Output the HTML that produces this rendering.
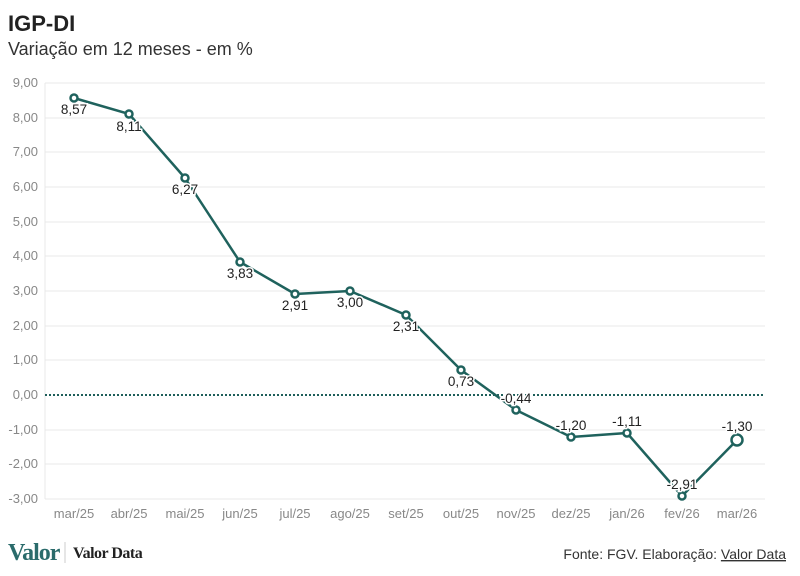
<!DOCTYPE html>
<html><head><meta charset="utf-8"><style>
body{margin:0;background:#fff;width:800px;height:571px;overflow:hidden;font-family:"Liberation Sans",sans-serif}
</style></head><body>
<svg width="800" height="571" xmlns="http://www.w3.org/2000/svg" font-family="Liberation Sans, sans-serif">
<text x="8" y="31" font-size="22" font-weight="bold" fill="#222">IGP-DI</text>
<text x="8" y="55" font-size="18" fill="#333">Variação em 12 meses - em %</text>
<g stroke="#e8e8e8" stroke-width="1">
<line x1="45" x2="765" y1="83" y2="83"/><line x1="45" x2="765" y1="118" y2="118"/><line x1="45" x2="765" y1="152" y2="152"/><line x1="45" x2="765" y1="187" y2="187"/><line x1="45" x2="765" y1="222" y2="222"/><line x1="45" x2="765" y1="256" y2="256"/><line x1="45" x2="765" y1="291" y2="291"/><line x1="45" x2="765" y1="326" y2="326"/><line x1="45" x2="765" y1="360" y2="360"/><line x1="45" x2="765" y1="430" y2="430"/><line x1="45" x2="765" y1="464" y2="464"/><line x1="45" x2="765" y1="499" y2="499"/>
<line x1="45" x2="45" y1="83" y2="499"/>
</g>
<line x1="45" x2="765" y1="395" y2="395" stroke="#1e5f5a" stroke-width="2" stroke-dasharray="2,2"/>
<g font-size="13" fill="#888" text-anchor="end">
<text x="38" y="87">9,00</text><text x="38" y="122">8,00</text><text x="38" y="156">7,00</text><text x="38" y="191">6,00</text><text x="38" y="226">5,00</text><text x="38" y="260">4,00</text><text x="38" y="295">3,00</text><text x="38" y="330">2,00</text><text x="38" y="364">1,00</text><text x="38" y="399">0,00</text><text x="38" y="434">-1,00</text><text x="38" y="468">-2,00</text><text x="38" y="503">-3,00</text>
</g>
<g font-size="13" fill="#888" text-anchor="middle">
<text x="74" y="518">mar/25</text><text x="129" y="518">abr/25</text><text x="185" y="518">mai/25</text><text x="240" y="518">jun/25</text><text x="295" y="518">jul/25</text><text x="350" y="518">ago/25</text><text x="406" y="518">set/25</text><text x="461" y="518">out/25</text><text x="516" y="518">nov/25</text><text x="571" y="518">dez/25</text><text x="627" y="518">jan/26</text><text x="682" y="518">fev/26</text><text x="737" y="518">mar/26</text>
</g>
<polyline fill="none" stroke="#1f625d" stroke-width="2.5" stroke-linejoin="round" points="74,98 129,114 185,178 240,262 295,294 350,291 406,315 461,370 516,410 571,437 627,433 682,496 737,440"/>
<g fill="#fff" stroke="#1f625d" stroke-width="2.5">
<circle cx="74" cy="98" r="3.5"/><circle cx="129" cy="114" r="3.5"/><circle cx="185" cy="178" r="3.5"/><circle cx="240" cy="262" r="3.5"/><circle cx="295" cy="294" r="3.5"/><circle cx="350" cy="291" r="3.5"/><circle cx="406" cy="315" r="3.5"/><circle cx="461" cy="370" r="3.5"/><circle cx="516" cy="410" r="3.5"/><circle cx="571" cy="437" r="3.5"/><circle cx="627" cy="433" r="3.5"/><circle cx="682" cy="496" r="3.5"/><circle cx="737" cy="440" r="5.5"/>
</g>
<g font-size="13.5" fill="#222" text-anchor="middle" stroke="#fff" stroke-width="3" paint-order="stroke">
<text x="74" y="114">8,57</text><text x="129" y="131">8,11</text><text x="185" y="194">6,27</text><text x="240" y="278">3,83</text><text x="295" y="310">2,91</text><text x="350" y="307">3,00</text><text x="406" y="331">2,31</text><text x="461" y="386">0,73</text><text x="516" y="403">-0,44</text><text x="571" y="430">-1,20</text><text x="627" y="426">-1,11</text><text x="682" y="489">-2,91</text><text x="737" y="431">-1,30</text>
</g>
<text x="8" y="560" font-family="Liberation Serif, serif" font-size="24" font-weight="bold" fill="#2a6b6b" letter-spacing="-1">Valor</text>
<line x1="65" x2="65" y1="542" y2="563" stroke="#ccc"/>
<text x="73" y="558" font-family="Liberation Serif, serif" font-size="16" font-weight="bold" fill="#222" letter-spacing="-0.5">Valor Data</text>
<text x="786" y="559" font-size="14" fill="#333" text-anchor="end">Fonte: FGV. Elaboração: <tspan text-decoration="underline">Valor Data</tspan></text>
</svg>
</body></html>
